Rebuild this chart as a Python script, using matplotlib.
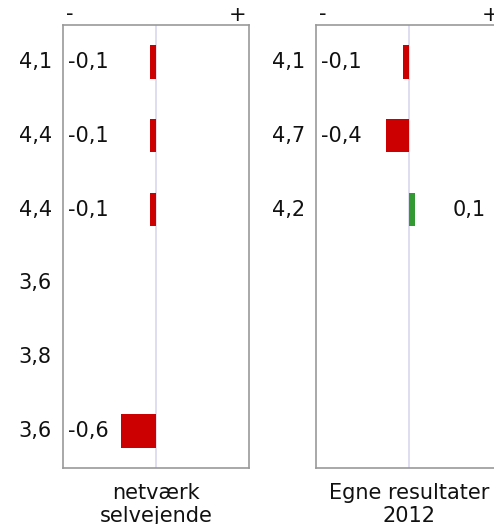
import numpy as np
import matplotlib
matplotlib.use("Agg")
import matplotlib.pyplot as plt

# ---- data ----
panel_titles = ["netværk\nselvejende", "Egne resultater\n2012"]
scores_1 = [4.1, 4.4, 4.4, 3.6, 3.8, 3.6]
changes_1 = [-0.1, -0.1, -0.1, np.nan, np.nan, -0.6]
scores_2 = [4.1, 4.7, 4.2, np.nan, np.nan, np.nan]
changes_2 = [-0.1, -0.4, 0.1, np.nan, np.nan, np.nan]

RED = "#cc0000"
GREEN = "#339933"
FRAME = "#999999"
ZERO = "#d8d8ee"
TXT = "#111111"
FS = 15
plt.rcParams['font.family'] = ['DejaVu Sans']

W, H = 494, 524
fig = plt.figure(figsize=(W / 100, H / 100), dpi=100)

def fmt(v):
    return ("%.1f" % v).replace(".", ",")

def panel(left_px, scores, changes, title):
    ax = fig.add_axes([left_px / W, 1 - 468 / H, 186 / W, 443 / H])
    n = len(scores)
    ax.set_xlim(-1.6, 1.6)
    ax.set_ylim(n - 0.5, -0.5)
    ax.axvline(0, color=ZERO, lw=1.2, zorder=0)
    y = np.arange(n)
    ch = np.array(changes, dtype=float)
    colors = [GREEN if c > 0 else RED for c in np.nan_to_num(ch)]
    ax.barh(y, np.nan_to_num(ch), height=0.45, color=colors, zorder=2)
    for i, (s, c) in enumerate(zip(scores, changes)):
        if not np.isnan(s):
            ax.text(-0.06, i, fmt(s), transform=ax.get_yaxis_transform(),
                    ha="right", va="center", fontsize=FS, color=TXT)
        if not np.isnan(c):
            if c < 0:
                ax.text(0.027, i, fmt(c), transform=ax.get_yaxis_transform(),
                        ha="left", va="center", fontsize=FS, color=TXT)
            else:
                ax.text(0.91, i, fmt(c), transform=ax.get_yaxis_transform(),
                        ha="right", va="center", fontsize=FS, color=TXT)
    ax.text(0.015, 1.003, "-", transform=ax.transAxes, ha="left", va="bottom",
            fontsize=FS, color=TXT)
    ax.text(0.985, 1.0, "+", transform=ax.transAxes, ha="right", va="bottom",
            fontsize=FS, color=TXT)
    ax.text(0, -0.034, title, transform=ax.get_xaxis_transform(), ha="center",
            va="top", fontsize=FS, color=TXT, linespacing=1.2)
    ax.set_xticks([])
    ax.set_yticks([])
    for sp in ax.spines.values():
        sp.set_color(FRAME)
        sp.set_linewidth(1.2)
    return ax

panel(63, scores_1, changes_1, panel_titles[0])
panel(316, scores_2, changes_2, panel_titles[1])

fig.savefig("out.png", dpi=100, facecolor="white")
